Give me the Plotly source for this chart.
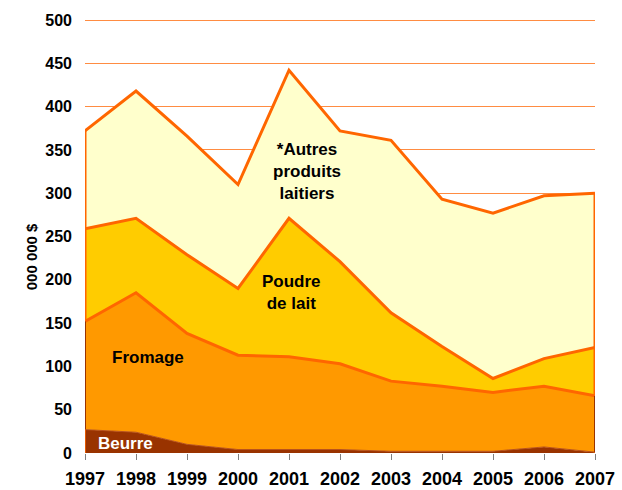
import plotly.graph_objects as go

years = [1997, 1998, 1999, 2000, 2001, 2002, 2003, 2004, 2005, 2006, 2007]
# cumulative levels (millions $)
beurre_top = [27, 24, 10, 4, 4, 4, 2, 2, 2, 7, 1]
fromage_top = [152, 185, 138, 113, 111, 103, 83, 77, 70, 77, 66]
poudre_top = [259, 271, 229, 190, 271, 221, 162, 123, 86, 109, 122]
total_top = [372, 418, 366, 310, 442, 372, 361, 293, 277, 297, 300]

series_names = ["Beurre", "Fromage", "Poudre de lait", "*Autres produits laitiers"]
beurre = beurre_top
fromage = [f - b for f, b in zip(fromage_top, beurre_top)]
poudre = [p - f for p, f in zip(poudre_top, fromage_top)]
autres = [t - p for t, p in zip(total_top, poudre_top)]

y_ticks = [0, 50, 100, 150, 200, 250, 300, 350, 400, 450, 500]

ORANGE = "#FF6600"
fig = go.Figure()
fig.add_trace(go.Scatter(x=years, y=beurre, stackgroup="s", name=series_names[0],
                         fillcolor="#993300", line=dict(color="#B8511A", width=1), mode="lines"))
fig.add_trace(go.Scatter(x=years, y=fromage, stackgroup="s", name=series_names[1],
                         fillcolor="#FF9900", line=dict(color=ORANGE, width=3), mode="lines"))
fig.add_trace(go.Scatter(x=years, y=poudre, stackgroup="s", name=series_names[2],
                         fillcolor="#FFCC00", line=dict(color=ORANGE, width=3), mode="lines"))
fig.add_trace(go.Scatter(x=years, y=autres, stackgroup="s", name=series_names[3],
                         fillcolor="#FFFFCC", line=dict(color=ORANGE, width=3), mode="lines"))

# vertical edges of the areas at first and last year
for i in (0, -1):
    fig.add_trace(go.Scatter(x=[years[i], years[i]], y=[beurre_top[i], fromage_top[i]],
                             mode="lines", line=dict(color="#993300", width=2), hoverinfo="skip"))
    fig.add_trace(go.Scatter(x=[years[i], years[i]], y=[0, beurre_top[i]],
                             mode="lines", line=dict(color=ORANGE, width=1.5), hoverinfo="skip"))
    fig.add_trace(go.Scatter(x=[years[i], years[i]], y=[fromage_top[i], total_top[i]],
                             mode="lines", line=dict(color=ORANGE, width=3), hoverinfo="skip"))

font_family = "Liberation Sans, Arial, sans-serif"
lbl = dict(family=font_family, size=17, color="black", weight=700)
fig.add_annotation(x=2001.35, y=325, text="*Autres<br>produits<br>laitiers", showarrow=False, font=lbl)
fig.add_annotation(x=2001.05, y=185, text="Poudre<br>de lait", showarrow=False, font=lbl)
fig.add_annotation(x=1998.24, y=110, text="Fromage", showarrow=False, font=lbl)
fig.add_annotation(x=1997.79, y=10.5, text="Beurre", showarrow=False,
                   font=dict(family=font_family, size=17, color="white", weight=700))
fig.add_annotation(xref="paper", yref="paper", x=-0.1255, y=0.45, text="000 000 $",
                   textangle=-90, showarrow=False,
                   font=dict(family=font_family, size=15, color="black", weight=700))

fig.update_layout(
    width=622, height=490,
    margin=dict(l=85, r=27, t=17, b=37, autoexpand=False),
    paper_bgcolor="white", plot_bgcolor="white",
    showlegend=False,
    font=dict(family=font_family),
    xaxis=dict(range=[1997, 2007], tickvals=years, ticktext=[str(y) for y in years],
               showgrid=False, zeroline=False, showline=False, automargin=False,
               ticks="outside", ticklen=6, tickcolor="#808080",
               tickfont=dict(family=font_family, size=18, color="black", weight=700),
               ticklabelstandoff=3),
    yaxis=dict(range=[0, 503.46], tickvals=y_ticks, showgrid=True, gridcolor="#FF8C42", gridwidth=1,
               zeroline=False, showline=False, ticks="", automargin=False,
               tickfont=dict(family=font_family, size=16, color="black", weight=700),
               ticklabelstandoff=12),
)
fig.write_html("out.html", post_script="document.body.style.margin='0';",
               config={"displayModeBar": False})
